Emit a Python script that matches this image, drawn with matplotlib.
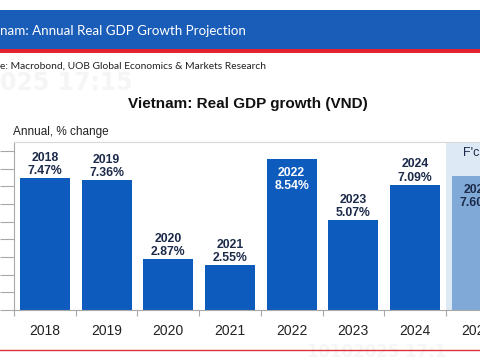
import matplotlib.pyplot as plt
from matplotlib.patches import Rectangle

# Data
years = ['2018', '2019', '2020', '2021', '2022', '2023', '2024', '2025']
growth = [7.47, 7.36, 2.87, 2.55, 8.54, 5.07, 7.09, 7.60]
labels = ['7.47%', '7.36%', '2.87%', '2.55%', '8.54%', '5.07%', '7.09%', '7.60%']
inside = [False, False, False, False, True, False, False, True]

bar_blue = '#0d5bbd'
fcast_blue = '#80a9d8'
shade = '#dde9f5'
navy = '#1c2a4a'

fig = plt.figure(figsize=(4.8, 3.6), dpi=100)
fig.patch.set_facecolor('white')

# Banner with red stripe
fig.patches.append(Rectangle((0, 310 / 360), 1, 40 / 360, transform=fig.transFigure,
                             facecolor='#1a5db8', edgecolor='none'))
fig.patches.append(Rectangle((0, 307 / 360), 1, 4 / 360, transform=fig.transFigure,
                             facecolor='#e3222d', edgecolor='none'))
fig.text(0.0, 329 / 360, 'nam: Annual Real GDP Growth Projection', color='white',
         fontsize=9.6, family='Lato', va='center', ha='left')
fig.text(0.0, 294 / 360, 'e: Macrobond, UOB Global Economics & Markets Research',
         color='#222222', fontsize=7.4, family='Lato', va='center', ha='left')

# faint watermarks
fig.text(0.0, 277 / 360, '025 17:15', color='#f5f5f5', fontsize=17, weight='bold',
         va='center', ha='left', zorder=0)
fig.text(0.64, 8 / 360, '10102025 17:1', color='#f6f6f6', fontsize=12, weight='bold',
         va='center', ha='left', zorder=0)

fig.text(248 / 480, 256 / 360, 'Vietnam: Real GDP growth (VND)', fontsize=11,
         weight='bold', family='Liberation Sans', ha='center', va='center', color='#111111')
fig.text(13 / 480, 228 / 360, 'Annual, % change', fontsize=8.5, family='Liberation Sans',
         ha='left', va='center', color='#222222')

# bottom red rule
fig.add_artist(plt.Line2D([0, 1], [10 / 360, 10 / 360], transform=fig.transFigure,
                          color='#d9343a', lw=1))

ax = fig.add_axes([14 / 480, 50 / 360, 493.6 / 480, 168 / 360])
ax.set_xlim(-0.5, 7.5)
ax.set_ylim(0, 9.5)
ax.set_facecolor('none')

x = list(range(len(years)))
ax.axvspan(6.5, 7.5, color=shade, zorder=0, lw=0)
colors = [bar_blue] * 7 + [fcast_blue]
ax.bar(x, growth, width=0.81, color=colors, zorder=2)

for i in x:
    txt = years[i] + '\n' + labels[i]
    if inside[i]:
        c = 'white' if i == 4 else navy
        ax.text(i, growth[i] - 0.45, txt, ha='center', va='top', fontsize=8.8,
                weight='bold', color=c, linespacing=1.15, family='Liberation Sans', zorder=3)
    else:
        ax.text(i, growth[i] + 0.05, txt, ha='center', va='bottom', fontsize=8.8,
                weight='bold', color=navy, linespacing=1.15, family='Liberation Sans', zorder=3)

ax.text(6.78, 8.88, "F'cast", ha='left', va='center', fontsize=9, color=navy,
        family='Liberation Sans')

for s in ['top', 'right']:
    ax.spines[s].set_color('#d8d8d8')
for s in ['left', 'bottom']:
    ax.spines[s].set_color('#a8a8a8')
    ax.spines[s].set_linewidth(0.8)

ax.set_yticks(range(0, 10))
ax.set_yticklabels([])
ax.tick_params(axis='y', direction='out', length=10, color='#a8a8a8', width=0.8)

ax.set_xticks(x)
ax.set_xticklabels(years, fontsize=10, family='Liberation Sans', color='#222222')
ax.set_xticks([i - 0.5 for i in range(9)], minor=True)
ax.tick_params(axis='x', which='major', length=0, pad=10)
ax.tick_params(axis='x', which='minor', direction='out', length=4, color='#a8a8a8', width=0.8)

plt.savefig('out.png', dpi=100)
